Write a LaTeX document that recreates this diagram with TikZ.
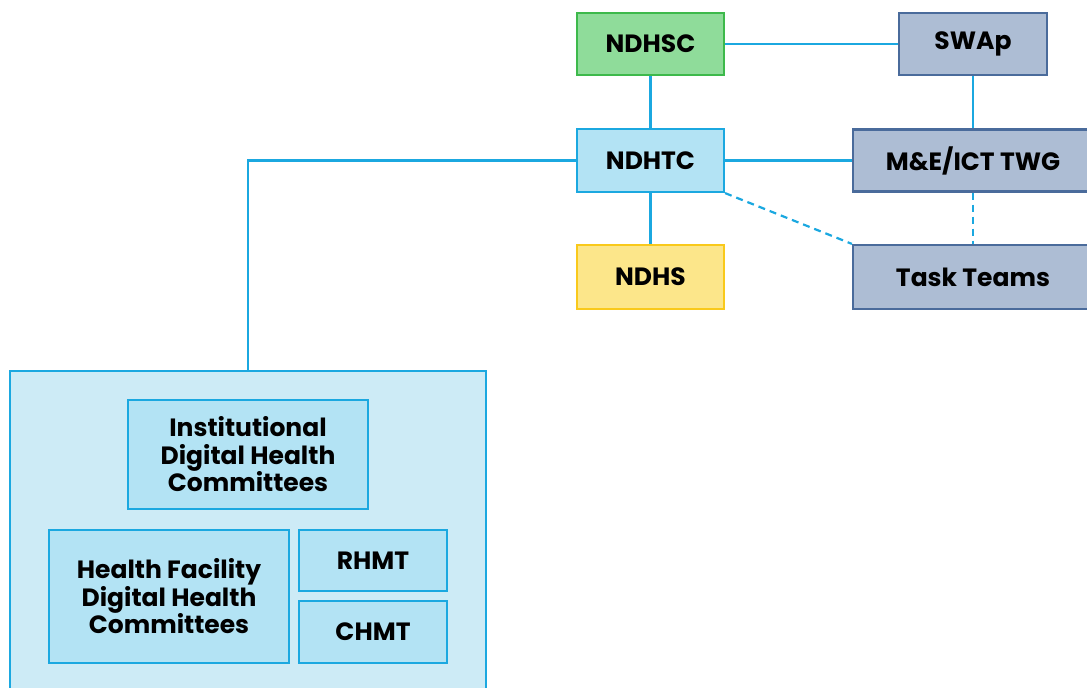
\documentclass[tikz,border=0pt]{standalone}
\usepackage{fontspec}
\setmainfont{Poppins}
\usetikzlibrary{positioning}
\definecolor{lnblue}{HTML}{1BA8E0}
\definecolor{grfill}{HTML}{8FDC9A}
\definecolor{grdraw}{HTML}{3DB94B}
\definecolor{gyfill}{HTML}{ADBDD4}
\definecolor{gydraw}{HTML}{4A6B9B}
\definecolor{bufill}{HTML}{B3E3F4}
\definecolor{bgfill}{HTML}{CDEBF6}
\definecolor{yefill}{HTML}{FCE68A}
\definecolor{yedraw}{HTML}{F9C91B}
\tikzset{
  box/.style={draw, line width=2.2pt, inner sep=0pt, align=center,
    font=\fontsize{25}{27.5}\selectfont\bfseries, text=black},
  greenbox/.style={box, fill=grfill, draw=grdraw},
  graybox/.style={box, fill=gyfill, draw=gydraw},
  bluebox/.style={box, fill=bufill, draw=lnblue},
  yellowbox/.style={box, fill=yefill, draw=yedraw},
  conn/.style={draw=lnblue, line width=2.2pt},
  dconn/.style={conn, dash pattern=on 7pt off 5pt},
}
\begin{document}
\begin{tikzpicture}[x=1pt,y=-1pt]
\useasboundingbox (0,0) rectangle (1087,688);
\clip (0,0) rectangle (1087,688);
\node[greenbox, minimum width=147pt, minimum height=62pt] (ndhsc) at (650.5,44) {NDHSC};
\node[graybox, minimum width=148pt, minimum height=62pt] (swap) at (973,44) {SWAp};
\node[bluebox, minimum width=147pt, minimum height=63pt] (ndhtc) at (650.5,160.5) {NDHTC};
\node[graybox, minimum width=240pt, minimum height=62pt] (twg) at (973,160.5) {M\&E/ICT TWG};
\node[yellowbox, minimum width=147pt, minimum height=64pt] (ndhs) at (650.5,277) {NDHS};
\node[graybox, minimum width=240pt, minimum height=64pt] (tasks) at (973,277) {Task Teams};
\node[box, fill=bgfill, draw=lnblue, minimum width=476pt, minimum height=340pt] (outer) at (248,541) {};
\node[bluebox, minimum width=240pt, minimum height=109pt] (inst) at (248,454.5) {Institutional\\Digital Health\\Committees};
\node[bluebox, minimum width=240pt, minimum height=133pt] (hf) at (169,596.5) {Health Facility\\Digital Health\\Committees};
\node[bluebox, minimum width=148pt, minimum height=61pt] (rhmt) at (373,560.5) {RHMT};
\node[bluebox, minimum width=148pt, minimum height=62pt] (chmt) at (373,632) {CHMT};
\draw[conn] (ndhsc) -- (swap);
\draw[conn] (ndhsc) -- (ndhtc);
\draw[conn] (swap) -- (twg);
\draw[conn] (ndhtc) -- (twg);
\draw[conn] (ndhtc) -- (ndhs);
\draw[conn] (ndhtc.west) -| (outer.north);
\draw[dconn] (ndhtc.south east) -- (tasks.north west);
\draw[dconn] (twg) -- (tasks);
\end{tikzpicture}
\end{document}
